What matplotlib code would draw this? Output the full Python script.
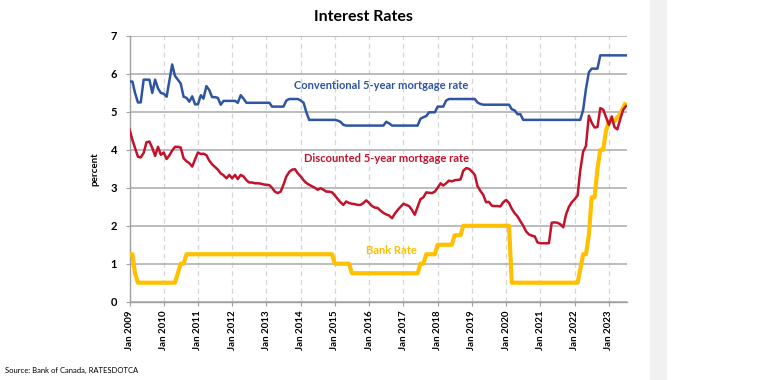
import numpy as np
import pandas as pd
import matplotlib
matplotlib.use("Agg")
import matplotlib.pyplot as plt
import matplotlib.dates as mdates
from matplotlib.patches import Rectangle

# monthly data, Jan 2009 .. Jul 2023
dates = pd.date_range("2009-01-01", periods=175, freq="MS")

conventional = [
    5.8, 5.8, 5.5, 5.25, 5.25, 5.85, 5.85, 5.85, 5.5, 5.85, 5.62, 5.5,      # 2009
    5.48, 5.4, 5.8, 6.25, 5.95, 5.85, 5.75, 5.4, 5.37, 5.27, 5.41, 5.2,     # 2010
    5.2, 5.44, 5.35, 5.68, 5.58, 5.39, 5.39, 5.37, 5.19, 5.29, 5.29, 5.29,  # 2011
    5.29, 5.29, 5.24, 5.44, 5.35, 5.24, 5.24, 5.24, 5.24, 5.24, 5.24, 5.24, # 2012
    5.24, 5.24, 5.14, 5.14, 5.14, 5.14, 5.14, 5.3, 5.34, 5.34, 5.34, 5.34,  # 2013
    5.3, 5.24, 5.0, 4.79, 4.79, 4.79, 4.79, 4.79, 4.79, 4.79, 4.79, 4.79,   # 2014
    4.79, 4.77, 4.74, 4.66, 4.64, 4.64, 4.64, 4.64, 4.64, 4.64, 4.64, 4.64, # 2015
    4.64, 4.64, 4.64, 4.64, 4.64, 4.64, 4.74, 4.7, 4.64, 4.64, 4.64, 4.64,  # 2016
    4.64, 4.64, 4.64, 4.64, 4.64, 4.64, 4.82, 4.86, 4.89, 4.99, 4.99, 4.99, # 2017
    5.14, 5.14, 5.14, 5.3, 5.34, 5.34, 5.34, 5.34, 5.34, 5.34, 5.34, 5.34,  # 2018
    5.34, 5.34, 5.25, 5.21, 5.19, 5.19, 5.19, 5.19, 5.19, 5.19, 5.19, 5.19, # 2019
    5.19, 5.19, 5.07, 5.04, 4.94, 4.94, 4.79, 4.79, 4.79, 4.79, 4.79, 4.79, # 2020
    4.79, 4.79, 4.79, 4.79, 4.79, 4.79, 4.79, 4.79, 4.79, 4.79, 4.79, 4.79, # 2021
    4.79, 4.79, 4.79, 5.05, 5.6, 6.04, 6.14, 6.14, 6.14, 6.49, 6.49, 6.49,  # 2022
    6.49, 6.49, 6.49, 6.49, 6.49, 6.49, 6.49,                               # 2023
]

discounted = [
    4.54, 4.26, 4.05, 3.82, 3.8, 3.92, 4.2, 4.22, 4.05, 3.84, 4.08, 3.87,   # 2009
    3.93, 3.76, 3.85, 3.98, 4.08, 4.08, 4.06, 3.78, 3.7, 3.65, 3.56, 3.75,  # 2010
    3.93, 3.89, 3.9, 3.86, 3.72, 3.62, 3.55, 3.48, 3.38, 3.33, 3.25, 3.34,  # 2011
    3.25, 3.34, 3.23, 3.34, 3.3, 3.2, 3.14, 3.14, 3.12, 3.12, 3.11, 3.09,   # 2012
    3.08, 3.07, 3.0, 2.9, 2.86, 2.9, 3.08, 3.3, 3.42, 3.48, 3.49, 3.38,     # 2013
    3.3, 3.2, 3.13, 3.08, 3.04, 3.0, 2.95, 2.99, 2.95, 2.9, 2.9, 2.88,      # 2014
    2.8, 2.7, 2.62, 2.55, 2.64, 2.6, 2.58, 2.57, 2.55, 2.55, 2.6, 2.67,     # 2015
    2.6, 2.52, 2.48, 2.47, 2.4, 2.34, 2.3, 2.27, 2.2, 2.32, 2.42, 2.5,      # 2016
    2.58, 2.55, 2.52, 2.42, 2.29, 2.5, 2.7, 2.75, 2.88, 2.87, 2.86, 2.9,    # 2017
    3.0, 3.12, 3.06, 3.12, 3.19, 3.17, 3.2, 3.21, 3.22, 3.45, 3.52, 3.5,    # 2018
    3.43, 3.34, 3.05, 2.92, 2.82, 2.62, 2.63, 2.53, 2.52, 2.52, 2.51, 2.62, # 2019
    2.68, 2.6, 2.45, 2.33, 2.25, 2.12, 2.0, 1.85, 1.77, 1.74, 1.72, 1.56,   # 2020
    1.54, 1.54, 1.54, 1.54, 2.08, 2.09, 2.08, 2.04, 1.96, 2.3, 2.5, 2.62,   # 2021
    2.7, 2.8, 3.45, 3.95, 4.1, 4.9, 4.72, 4.59, 4.6, 5.1, 5.06, 4.86,       # 2022
    4.66, 4.88, 4.6, 4.54, 4.8, 5.05, 5.15,                                 # 2023
]

bank_rate = [
    1.25, 1.25, 0.75, 0.5, 0.5, 0.5, 0.5, 0.5, 0.5, 0.5, 0.5, 0.5,          # 2009
    0.5, 0.5, 0.5, 0.5, 0.5, 0.75, 1.0, 1.0, 1.25, 1.25, 1.25, 1.25,        # 2010
] + [1.25] * 48 + [                                                          # 2011-2014
    1.0, 1.0, 1.0, 1.0, 1.0, 1.0, 0.75, 0.75, 0.75, 0.75, 0.75, 0.75,       # 2015
] + [0.75] * 12 + [                                                          # 2016
    0.75, 0.75, 0.75, 0.75, 0.75, 0.75, 1.0, 1.0, 1.25, 1.25, 1.25, 1.25,   # 2017
    1.5, 1.5, 1.5, 1.5, 1.5, 1.5, 1.75, 1.75, 1.75, 2.0, 2.0, 2.0,          # 2018
] + [2.0] * 12 + [                                                           # 2019
    2.0, 2.0, 0.5, 0.5, 0.5, 0.5, 0.5, 0.5, 0.5, 0.5, 0.5, 0.5,             # 2020
] + [0.5] * 12 + [                                                           # 2021
    0.5, 0.5, 0.84, 1.25, 1.25, 1.75, 2.75, 2.75, 3.5, 4.0, 4.0, 4.5,       # 2022
    4.75, 4.75, 4.75, 4.85, 4.95, 5.1, 5.25,                                # 2023
]

years = list(range(2009, 2024))
tick_labels = ["Jan %d" % y for y in years]

blue = "#2E54A3"
red = "#C3122B"
gold = "#FFC000"

plt.rcParams["font.family"] = ["Lato", "DejaVu Sans"]

fig = plt.figure(figsize=(7.59, 3.8), dpi=100)
fig.patches.append(Rectangle((650 / 759, 0), 17 / 759, 1, transform=fig.transFigure,
                             facecolor="#F1F1F1", edgecolor="none", zorder=0))
ax = fig.add_axes([129.5 / 759, 1 - 301.7 / 380, (627 - 129.5) / 759, (301.7 - 36) / 380])

ax.plot(dates, bank_rate, color=gold, lw=3.0, solid_capstyle="butt", zorder=3)
ax.plot(dates, discounted, color=red, lw=1.8, zorder=4)
ax.plot(dates, conventional, color=blue, lw=1.8, zorder=5)

ax.set_ylim(0, 7)
ax.set_yticks(range(0, 8))
ax.set_xlim(pd.Timestamp("2009-01-01"), pd.Timestamp("2023-07-13"))
ax.set_xticks([pd.Timestamp("%d-01-01" % y) for y in years])
ax.set_xticklabels(tick_labels, rotation=90, fontsize=7, fontweight="bold")
for lab in ax.get_yticklabels():
    lab.set_fontweight("bold")
    lab.set_fontsize(8)

ax.grid(axis="y", color="#B0B0B0", lw=1.2, zorder=1)
ax.grid(axis="x", color="#D6D6D6", lw=0.9, ls=(0, (4, 3)), zorder=1)
ax.set_axisbelow(True)
for s in ["top", "right"]:
    ax.spines[s].set_visible(False)
for s in ["left", "bottom"]:
    ax.spines[s].set_color("#A0A0A0")
    ax.spines[s].set_linewidth(1.0)
ax.tick_params(axis="both", colors="#A0A0A0", length=3, labelcolor="black")
ax.tick_params(axis="y", pad=6)

ax.set_ylabel("percent", fontsize=7, fontweight="bold", labelpad=8)

ax.text(pd.Timestamp("2016-05-10"), 5.7, "Conventional 5-year mortgage rate", color=blue,
        fontsize=8, fontweight="bold", ha="center", va="center")
ax.text(pd.Timestamp("2016-07-05"), 3.76, "Discounted 5-year mortgage rate", color=red,
        fontsize=8, fontweight="bold", ha="center", va="center")
ax.text(pd.Timestamp("2016-08-25"), 1.36, "Bank Rate", color=gold,
        fontsize=8, fontweight="bold", ha="center", va="center")

fig.text(363 / 759, 1 - 17 / 380, "Interest Rates", fontsize=11.5, fontweight="bold",
         ha="center", va="center")
fig.text(5 / 759, 1 - 370 / 380, "Source: Bank of Canada, RATESDOTCA", fontsize=5.5,
         ha="left", va="center")

fig.savefig("out.png", dpi=100)
